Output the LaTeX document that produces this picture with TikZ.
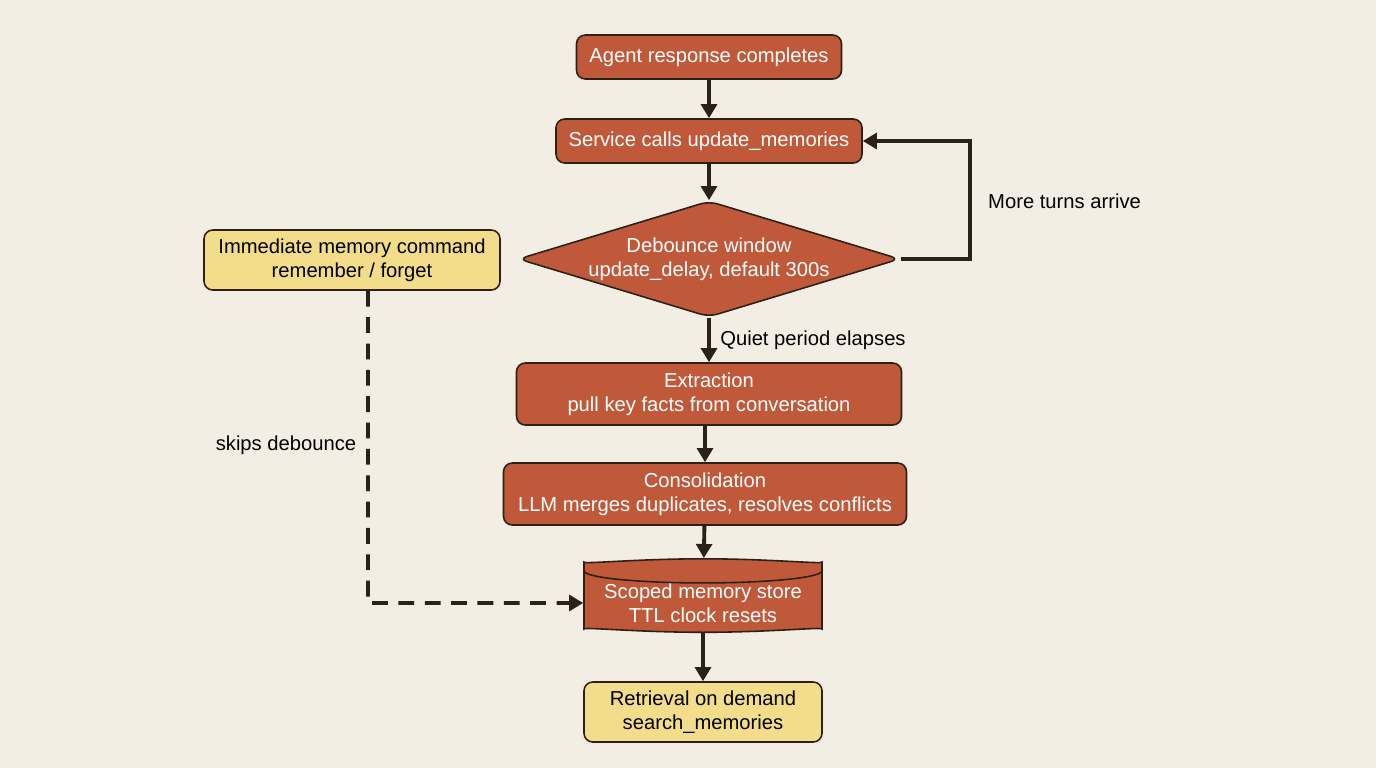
\documentclass[tikz,border=0pt]{standalone}
\usepackage{fontspec}
\setmainfont{Liberation Sans}
\usetikzlibrary{shapes.geometric,arrows.meta}
\definecolor{bgcream}{HTML}{F3EEE3}
\definecolor{rust}{HTML}{C0583A}
\definecolor{rusttop}{HTML}{D98A72}
\definecolor{sand}{HTML}{F3DC8A}
\definecolor{edgedark}{HTML}{2B2118}
\begin{document}
\begin{tikzpicture}[x=0.02cm,y=-0.02cm]

\tikzset{
  StepStyle/.style = {rectangle, rounded corners=5pt, draw=edgedark, line width=0.9pt,
                      fill=rust, text=white, align=center,
                      font=\fontsize{11.5}{13.5}\selectfont},
  SideStyle/.style = {StepStyle, fill=sand, text=black},
  FlowStyle/.style = {line width=2.2pt, draw=edgedark,
                      -{Triangle[length=8pt,width=9pt]}},
  LabelStyle/.style = {font=\fontsize{11.5}{13.5}\selectfont, text=black} }

  \fill[bgcream] (0,0) rectangle (1376,768);

  \node[StepStyle, minimum width=265*0.02cm, minimum height=44*0.02cm] (agent) at (709,57) {Agent response completes};
  \node[StepStyle, minimum width=306*0.02cm, minimum height=44*0.02cm] (service) at (709,141) {Service calls update\_memories};
  \node[StepStyle, diamond, aspect=3.3, inner sep=0pt, minimum width=380*0.02cm, minimum height=116*0.02cm] (debounce) at (709,259) {Debounce window\\update\_delay, default 300s};
  \node[StepStyle, minimum width=385*0.02cm, minimum height=62*0.02cm] (extract) at (709,394) {Extraction\\pull key facts from conversation};
  \node[StepStyle, minimum width=403*0.02cm, minimum height=62*0.02cm] (consol) at (705,494) {Consolidation\\LLM merges duplicates, resolves conflicts};
  \node[StepStyle, cylinder, shape border rotate=90, aspect=0.12, cylinder uses custom fill,
        cylinder body fill=rust, cylinder end fill=rusttop, inner xsep=1pt, inner ysep=0pt,
        minimum width=238*0.02cm, minimum height=52*0.02cm] (store) at (703,603) {Scoped memory store\\TTL clock resets};
  \node[SideStyle, minimum width=238*0.02cm, minimum height=60*0.02cm] (retrieve) at (703,712) {Retrieval on demand\\search\_memories};
  \node[SideStyle, minimum width=296*0.02cm, minimum height=60*0.02cm] (immediate) at (352,260) {Immediate memory command\\remember / forget};

  \coordinate (loopa) at (970,259);
  \coordinate (loopb) at (970,141);
  \coordinate (dasha) at (368,603);

  \draw[FlowStyle] (agent) -- (service);
  \draw[FlowStyle] (service) -- (debounce);
  \draw[FlowStyle] (debounce) -- node[LabelStyle, right, xshift=2pt] {Quiet period elapses} (extract);
  \draw[FlowStyle] (extract.south -| consol.north) -- (consol.north);
  \draw[FlowStyle] (consol) -- (store);
  \draw[FlowStyle] (store) -- (retrieve);
  \draw[FlowStyle] (debounce.east) -- (loopa) -- (loopb) -- (service.east);
  \node[LabelStyle, anchor=west] (moreturns) at (982,201) {More turns arrive};
  \draw[FlowStyle, dashed, dash pattern=on 9pt off 6pt] (immediate.south -| dasha) -- (dasha) -- (store.west);
  \node[LabelStyle] (skips) at (286,445) {skips debounce};

\end{tikzpicture}
\end{document}
